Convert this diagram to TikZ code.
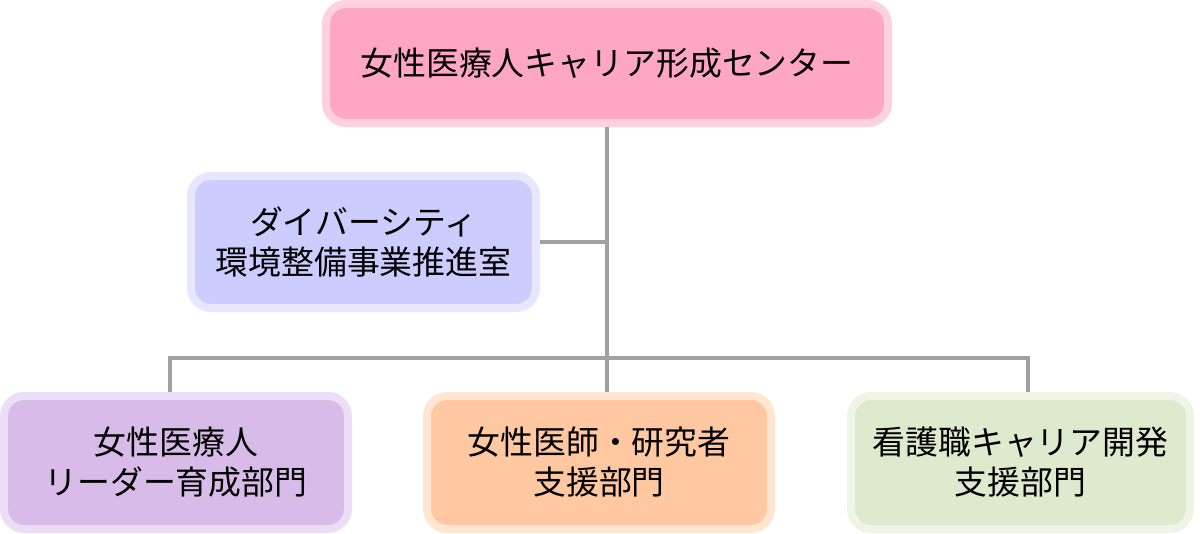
\documentclass[tikz,border=0pt]{standalone}
\usepackage{fontspec}
\setmainfont{Noto Sans CJK JP}
\usepackage{tikz}
\usetikzlibrary{positioning}

\definecolor{centerfill}{RGB}{255,166,197}
\definecolor{centerrim}{RGB}{255,208,223}
\definecolor{divfill}{RGB}{204,204,255}
\definecolor{divrim}{RGB}{230,230,255}
\definecolor{leaderfill}{RGB}{216,187,232}
\definecolor{leaderrim}{RGB}{236,222,244}
\definecolor{doctorfill}{RGB}{255,200,160}
\definecolor{doctorrim}{RGB}{255,230,211}
\definecolor{nursefill}{RGB}{221,234,205}
\definecolor{nurserim}{RGB}{238,245,230}
\definecolor{linkgray}{RGB}{160,160,160}

\begin{document}
\begin{tikzpicture}[
  unit/.style={rounded corners=0.2cm, line width=0.08cm, align=center,
    inner sep=0pt, minimum width=3.44cm, minimum height=1.33cm,
    font=\fontsize{9.35pt}{11.4pt}\selectfont},
  link/.style={draw=linkgray, line width=1.1pt}
]
  \useasboundingbox (0,0) rectangle (12,-5.34);

  \node (center) [unit, fill=centerfill, draw=centerrim, minimum width=5.62cm,
    minimum height=1.19cm] at (6.07,-0.635)
    {女性医療人キャリア形成センター};
  \node (div) [unit, fill=divfill, draw=divrim, minimum width=3.45cm,
    minimum height=1.32cm] at (3.635,-2.42)
    {ダイバーシティ\\環境整備事業推進室};
  \node (leader) [unit, fill=leaderfill, draw=leaderrim] at (1.76,-4.625)
    {女性医療人\\リーダー育成部門};
  \node (doctor) [unit, fill=doctorfill, draw=doctorrim] at (5.99,-4.625)
    {女性医師・研究者\\支援部門};
  \node (nurse) [unit, fill=nursefill, draw=nurserim, minimum width=3.39cm] at (10.205,-4.625)
    {看護職キャリア開発\\支援部門};

  \coordinate (bus) at (6.07,-3.58);

  \draw [link] (center.south) -- (center.south |- doctor.north);
  \draw [link] (div.east) -- (div.east -| center.south);
  \draw [link] ([xshift=-0.06cm]leader.north) |- (bus);
  \draw [link] (bus) -| ([xshift=0.075cm]nurse.north);
\end{tikzpicture}
\end{document}
